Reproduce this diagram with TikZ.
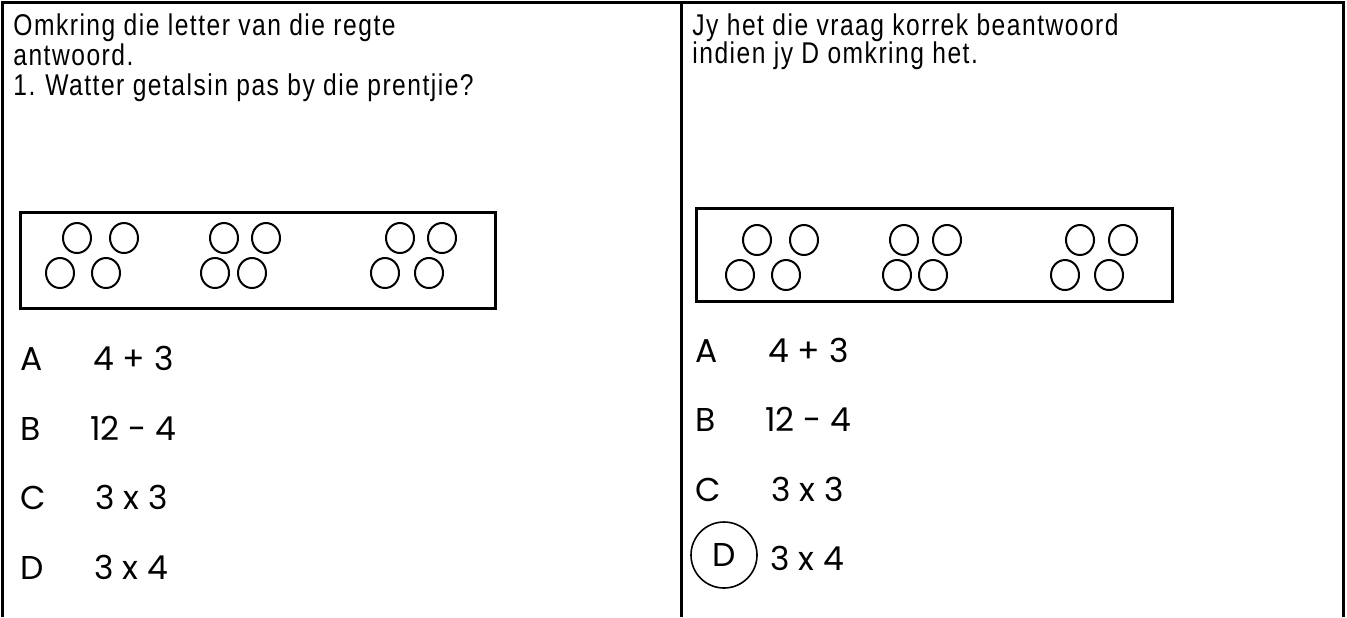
\documentclass[tikz,border=0pt]{standalone}
\usepackage{fontspec}
\setmainfont{Liberation Sans}
\newfontfamily\qfont[FakeStretch=0.82,LetterSpace=5]{Liberation Sans}
\newfontfamily\ofont{Poppins}
\begin{document}
\begin{tikzpicture}[x=0.5pt,y=-0.5pt,
  qtext/.style={anchor=base west,inner sep=0pt,font=\qfont\fontsize{15pt}{18pt}\selectfont},
  opt/.style={anchor=base west,inner sep=0pt,font=\ofont\fontsize{16.5pt}{20pt}\selectfont},
  dot/.style={line width=1pt},
  frame/.style={line width=1.5pt}]
\useasboundingbox (0,0) rectangle (1347,617);

% table lines
\draw[frame] (2,617) -- (2,2) -- (1343,2) -- (1343,617);
\draw[frame] (681,2) -- (681,617);

% left column
\node(q1)[qtext] at (13,35) {Omkring die letter van die regte};
\node(q2)[qtext] at (13,65) {antwoord.};
\node(q3)[qtext] at (13,95) {\makebox[16pt][l]{1.}Watter getalsin pas by die prentjie?};

\draw[frame] (20,212) rectangle (495,308);
\foreach \x/\y in {77/238,124/238,60/273,106/273,224/238,266/238,215/273,252/273,400/238,442/238,385/273,429/273}
  \draw[dot] (\x,\y) ellipse [x radius=7pt,y radius=7.5pt];

\node(lA)[opt] at (20,370) {A};
\node(lB)[opt] at (20,440) {B};
\node(lC)[opt] at (20,509) {C};
\node(lD)[opt] at (20,579) {D};
\node(la)[opt] at (93,370) {4 + 3};
\node(lb)[opt] at (90,440) {12 - 4};
\node(lc)[opt] at (95,509) {3 x 3};
\node(ld)[opt] at (94,579) {3 x 4};

% right column
\node(r1)[qtext] at (692,35) {Jy het die vraag korrek beantwoord};
\node(r2)[qtext] at (692,63) {indien jy D omkring het.};

\draw[frame] (696,208) rectangle (1172,301);
\foreach \x/\y in {757/240,804/240,740/275,786/275,904/240,947/240,897/275,933/275,1080/240,1123/240,1065/275,1109/275}
  \draw[dot] (\x,\y) ellipse [x radius=7pt,y radius=7.5pt];

\node(rA)[opt] at (695,362) {A};
\node(rB)[opt] at (695,431) {B};
\node(rC)[opt] at (695,501) {C};
\node(rD)[draw,circle,line width=0.8pt,minimum size=33pt,inner sep=0pt,
  font=\ofont\fontsize{16.5pt}{20pt}\selectfont] at (724,555) {D};
\node(ra)[opt] at (768,362) {4 + 3};
\node(rb)[opt] at (765,431) {12 - 4};
\node(rc)[opt] at (771,501) {3 x 3};
\node(rd)[opt] at (770,570) {3 x 4};

\end{tikzpicture}
\end{document}
